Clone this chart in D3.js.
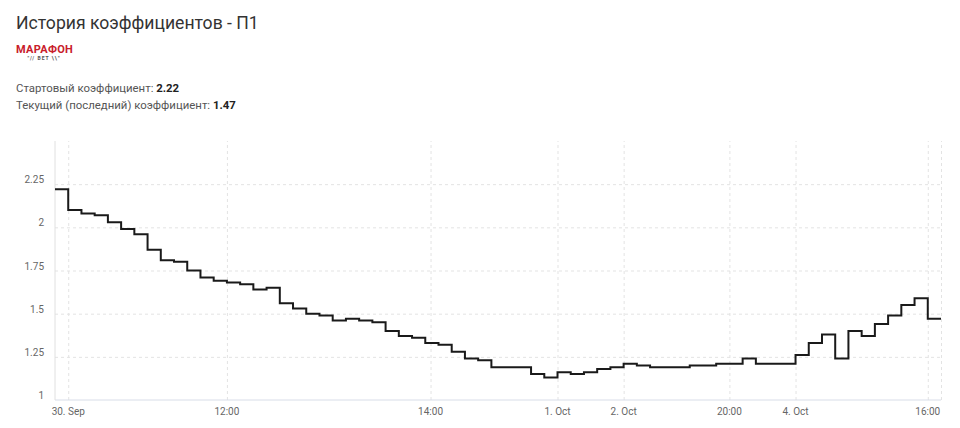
<!DOCTYPE html>
<html>
<head>
<meta charset="utf-8">
<script src="https://cdnjs.cloudflare.com/ajax/libs/d3/7.8.5/d3.min.js"></script>
<style>
  body { margin: 0; background: #fff; }
  svg { display: block; font-family: Roboto, "Noto Sans", sans-serif; }
  .grid line { stroke: #e3e3e3; stroke-dasharray: 3,3; }
  .tick-label { fill: #666; font-size: 10px; }
</style>
</head>
<body>
<svg></svg>
<script>
// coefficient steps (one per time step, ordinal x axis)
var odds = [2.22, 2.10, 2.08, 2.07, 2.03, 1.99, 1.96, 1.87, 1.81, 1.80,
  1.75, 1.71, 1.69, 1.68, 1.67, 1.64, 1.65, 1.56, 1.53, 1.50,
  1.49, 1.46, 1.47, 1.46, 1.45, 1.40, 1.37, 1.36, 1.33, 1.32,
  1.28, 1.24, 1.23, 1.19, 1.19, 1.19, 1.15, 1.13, 1.16, 1.15,
  1.16, 1.18, 1.19, 1.21, 1.20, 1.19, 1.19, 1.19, 1.20, 1.20,
  1.21, 1.21, 1.24, 1.21, 1.21, 1.21, 1.26, 1.33, 1.38, 1.24,
  1.40, 1.37, 1.44, 1.49, 1.55, 1.59, 1.47, 1.47];
var xTickPos = [1, 13, 28.4, 38, 43, 51, 56, 66];
var xTickLabels = ['30. Sep', '12:00', '14:00', '1. Oct', '2. Oct', '20:00', '4. Oct', '16:00'];
var yTicks = [1, 1.25, 1.5, 1.75, 2, 2.25];

var canvasWidth = 960;
var canvasHeight = 428;
var margin = { top: 141, right: 19, bottom: 28, left: 55 };

var svg = d3.select('svg')
  .attr('width', canvasWidth)
  .attr('height', canvasHeight);

// header
svg.append('text')
  .attr('x', 16)
  .attr('y', 29)
  .style('font-size', '17.6px')
  .style('fill', '#333')
  .text('История коэффициентов - П1');

// bookmaker logo
svg.append('text')
  .attr('x', 16)
  .attr('y', 53)
  .style('font-size', '11px')
  .style('font-weight', 'bold')
  .style('fill', '#c8202a')
  .style('letter-spacing', '0.3px')
  .text('МАРАФОН');
svg.append('text')
  .attr('x', 44)
  .attr('y', 59.5)
  .attr('text-anchor', 'middle')
  .style('font-size', '5px')
  .style('font-weight', 'bold')
  .style('fill', '#555')
  .style('letter-spacing', '1px')
  .text('"//  BET  \\\\"');

var info = [
  { label: 'Стартовый коэффициент: ', value: '2.22', y: 92 },
  { label: 'Текущий (последний) коэффициент: ', value: '1.47', y: 108.5 }
];
info.forEach(function(d) {
  var t = svg.append('text')
    .attr('x', 16)
    .attr('y', d.y)
    .style('font-size', '11.4px')
    .style('fill', '#555');
  t.append('tspan').text(d.label);
  t.append('tspan').style('font-weight', 'bold').style('fill', '#222').text(d.value);
});

var width = canvasWidth - margin.left - margin.right;
var height = 259;

var xScale = d3.scaleLinear().domain([0, odds.length - 1]).range([0, width]);
var yScale = d3.scaleLinear().domain([1, 2.5]).range([height, 0]);

var graphArea = svg.append('g')
  .attr('transform', 'translate(' + margin.left + ',' + margin.top + ')');

// grid lines
graphArea.append('g')
  .attr('class', 'grid')
  .call(d3.axisLeft(yScale).tickValues(yTicks.slice(1)).tickSize(-width).tickFormat(''))
  .call(function(g) { g.select('.domain').remove(); });

graphArea.append('g')
  .attr('class', 'grid')
  .attr('transform', 'translate(0,' + height + ')')
  .call(d3.axisBottom(xScale).tickValues(xTickPos.concat([odds.length - 1])).tickSize(-height).tickFormat(''))
  .call(function(g) { g.select('.domain').remove(); });

// axis lines
graphArea.append('line')
  .attr('x1', 0).attr('x2', width)
  .attr('y1', height).attr('y2', height)
  .style('stroke', '#d8dde8');
graphArea.append('line')
  .attr('x1', 0).attr('x2', 0)
  .attr('y1', 0).attr('y2', height)
  .style('stroke', '#e0e0e0');

// y labels
graphArea.selectAll('.ylab')
  .data(yTicks)
  .enter().append('text')
  .attr('class', 'tick-label')
  .attr('x', -11)
  .attr('y', function(d) { return yScale(d) - 1; })
  .attr('text-anchor', 'end')
  .text(function(d) { return d3.format('~g')(d); });

// x labels
graphArea.selectAll('.xlab')
  .data(xTickPos)
  .enter().append('text')
  .attr('class', 'tick-label')
  .attr('x', function(d) { return xScale(d); })
  .attr('y', height + 15)
  .attr('text-anchor', 'middle')
  .text(function(d, i) { return xTickLabels[i]; });

// the step line
var line = d3.line()
  .x(function(d, i) { return xScale(i); })
  .y(function(d) { return yScale(d); })
  .curve(d3.curveStepAfter);

graphArea.append('path')
  .datum(odds)
  .attr('d', line)
  .style('fill', 'none')
  .style('stroke', '#1a1a1a')
  .style('stroke-width', 2);
</script>
</body>
</html>
